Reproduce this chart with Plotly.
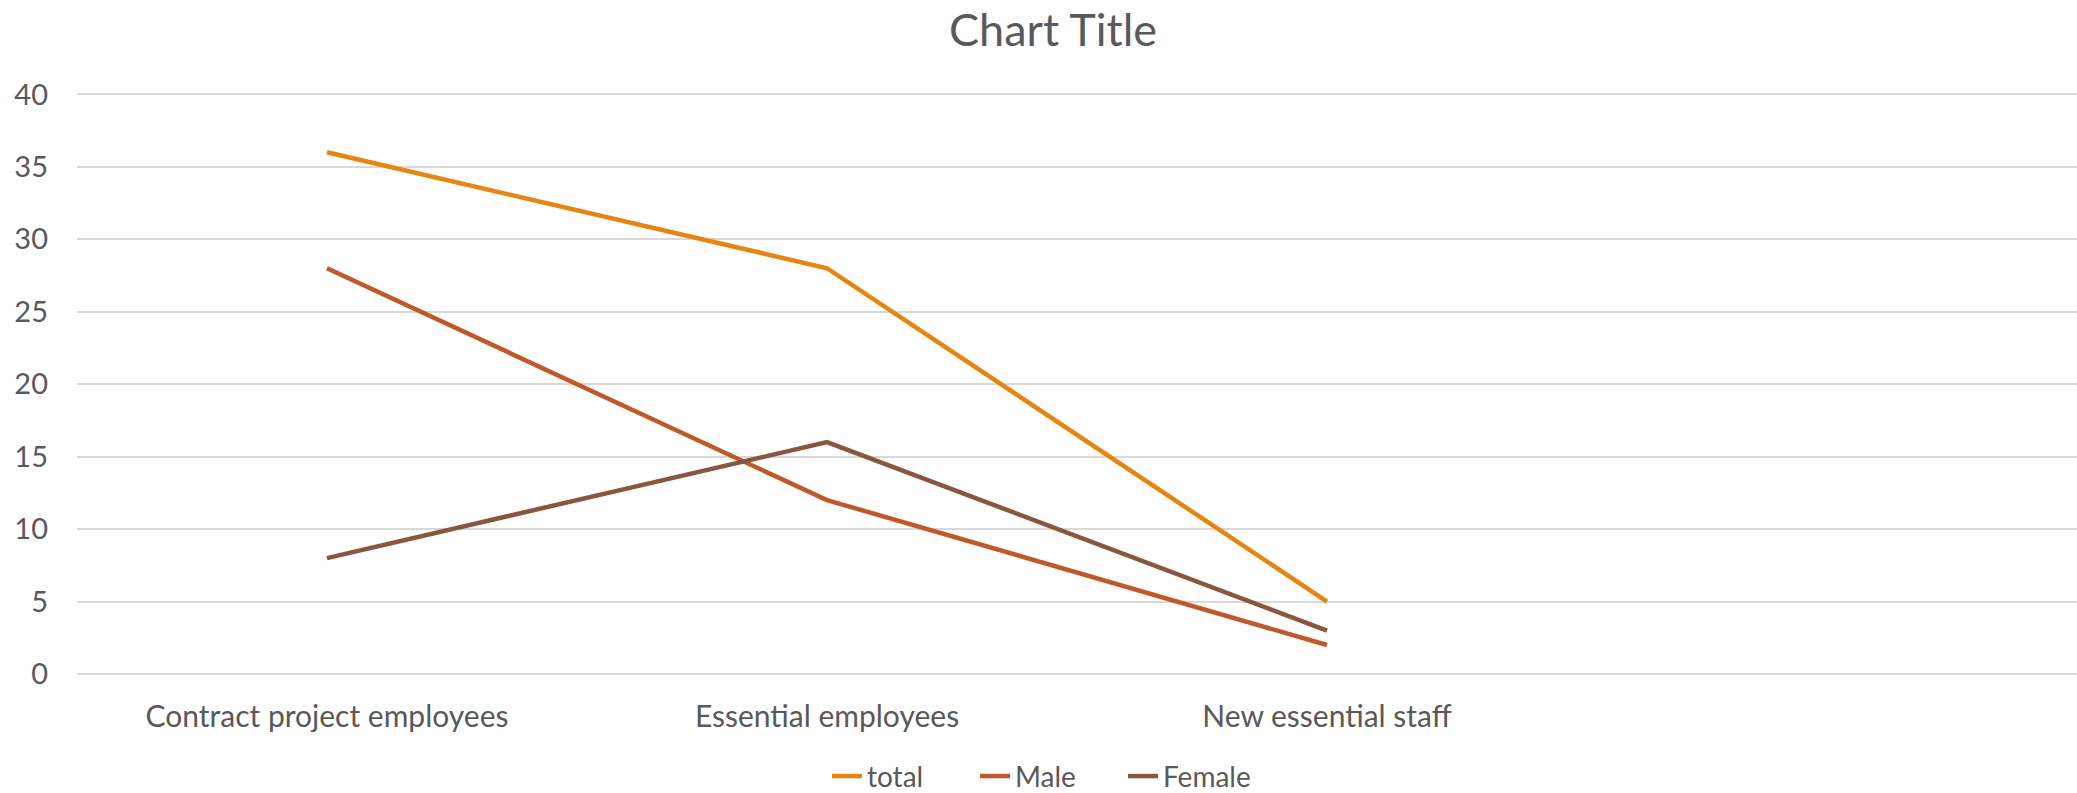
import plotly.graph_objects as go

# Staff counts per category; the fourth category slot is left empty
categories = ["Contract project employees", "Essential employees", "New essential staff", ""]
total = [36, 28, 5, None]
male = [28, 12, 2, None]
female = [8, 16, 3, None]

series = [
    ("total", total, "#E6850F"),
    ("Male", male, "#C0582A"),
    ("Female", female, "#8A5640"),
]

x_pos = list(range(len(categories)))

fig = go.Figure()
for name, values, color in series:
    fig.add_trace(go.Scatter(
        x=x_pos, y=values, name=name, mode="lines",
        line=dict(color=color, width=4.5),
        connectgaps=False,
    ))

text_color = "#595959"
font_family = "Lato, 'Open Sans', sans-serif"

fig.update_layout(
    width=2077, height=793,
    paper_bgcolor="white", plot_bgcolor="white",
    margin=dict(l=77, r=0, t=90, b=119, autoexpand=False),
    title=dict(text="Chart Title", x=0.507, xanchor="center", y=0.962, yanchor="middle",
               font=dict(family=font_family, size=45, color=text_color)),
    font=dict(family=font_family, color=text_color),
    showlegend=True,
    legend=dict(orientation="h", x=0.375, xanchor="left",
                yref="container", y=0.021, yanchor="middle",
                font=dict(size=28, color=text_color), itemwidth=30,
                entrywidth=103, entrywidthmode="pixels",
                bgcolor="rgba(0,0,0,0)"),
    xaxis=dict(
        tickmode="array", tickvals=x_pos, ticktext=categories,
        range=[-0.5, len(categories) - 0.5],
        showgrid=False, zeroline=False, showline=False, ticks="",
        tickfont=dict(size=30, color=text_color),
        ticklabelstandoff=22, automargin=False,
    ),
    yaxis=dict(
        range=[0, 40.3], tickmode="linear", tick0=0, dtick=5,
        showgrid=True, gridcolor="#D9D9D9", gridwidth=2,
        zeroline=True, zerolinecolor="#D9D9D9", zerolinewidth=2,
        showline=False, ticks="",
        tickfont=dict(size=29, color=text_color),
        ticklabelstandoff=28, automargin=False,
    ),
)

fig.write_html("out.html")
